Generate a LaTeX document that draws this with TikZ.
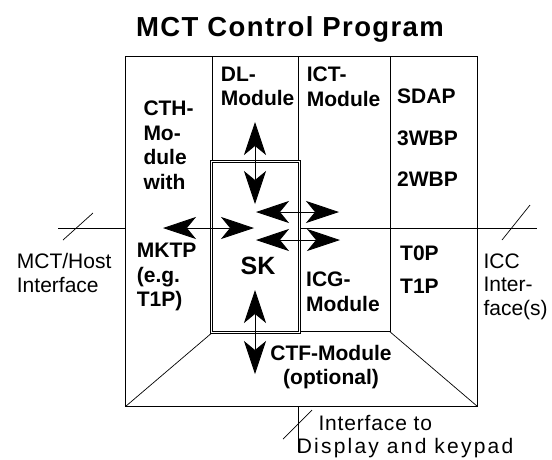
\documentclass[tikz,border=0pt]{standalone}
\usepackage{fontspec}
\setmainfont{Liberation Sans}
\usetikzlibrary{arrows.meta}
\tikzset{
	modtext/.style={font=\fontsize{21}{24.5}\selectfont\bfseries, inner sep=0pt, align=left},
	iftext/.style={font=\fontsize{21}{23.5}\selectfont, inner sep=0pt, align=left},
	bigarrow/.style={{Stealth[length=33pt,width=22pt,inset=9pt]}-{Stealth[length=33pt,width=22pt,inset=9pt]}, line width=0.8pt},
	thinline/.style={line width=0.7pt},
}

\begin{document}
\begin{tikzpicture}[x=1pt,y=-1pt]
			%%%%% START %%%%%
			\def\boxL{125.5}
			\def\boxR{477.5}
			\def\boxT{56.5}
			\def\boxB{406.5}
			\def\skL{211.8}
			\def\skR{299}
			\def\skT{161}
			\def\skB{332.8}
			\def\colx{390}
			\def\hy{228}
			\def\ax{255}

			\useasboundingbox (0,0) rectangle (552,459);

			\node[font=\fontsize{27.5}{30}\selectfont\bfseries\addfontfeature{LetterSpace=5}, anchor=base] (title) at (290,36.7) {MCT Control Program};

			\draw[line width=1.1pt] (\boxL,\boxT) rectangle (\boxR,\boxB);

			% column lines
			\draw[thinline] (\skL+1,\boxT) -- (\skL+1,\skT-1);
			\draw[thinline] (\skR-1,\boxT) -- (\skR-1,\skT-1);
			\draw[thinline] (\colx,\boxT) -- (\colx,\skB-1);
			\draw[thinline] (\skR+1,\skB-1) -- (\colx,\skB-1);
			\draw[thinline] (\colx,\skB-1) -- (\boxR,\boxB);
			\draw[thinline] (\skL-1,\skB+1) -- (\boxL,\boxB);

			% SK box, drawn twice
			\draw[thinline] (\skL-1,\skT-1) rectangle (\skR+1,\skB+1);
			\draw[thinline] (\skL+1,\skT+1) rectangle (\skR-1,\skB-1);

			% interfaces
			\draw[thinline] (58,\hy) -- (\boxL,\hy);
			\draw[thinline] (63,240) -- (93,213);
			\draw[thinline] (\skR+1,\hy) -- (537,\hy);
			\draw[thinline] (502,240) -- (530,205);
			\draw[thinline] (298,\boxB) -- (298,452);
			\draw[thinline] (283,439) -- (312,410);

			% arrows
			\coordinate (dlA) at (\ax,122);
			\coordinate (dlB) at (\ax,204);
			\coordinate (mkA) at (163,\hy);
			\coordinate (mkB) at (254,\hy);
			\coordinate (ictA) at (256,212);
			\coordinate (ictB) at (339,212);
			\coordinate (icgA) at (256,240);
			\coordinate (icgB) at (340,240);
			\coordinate (ctfA) at (\ax,290);
			\coordinate (ctfB) at (\ax,374);
			\draw[bigarrow] (dlA) -- (dlB);
			\draw[bigarrow] (mkA) -- (mkB);
			\draw[bigarrow] (ictA) -- (ictB);
			\draw[bigarrow] (icgA) -- (icgB);
			\draw[bigarrow] (ctfA) -- (ctfB);

			% module texts
			\node[modtext, anchor=north west] (cth) at (143.3,101) {CTH-\\Mo-\\dule\\with};
			\node[modtext, anchor=north west] (mktp) at (136.7,243) {MKTP\\(e.g.\\T1P)};
			\node[modtext, anchor=north west] (dl) at (220.7,66.7) {DL-\\Module};
			\node[modtext, anchor=north west] (ict) at (306.7,66.7) {ICT-\\Module};
			\node[modtext, anchor=base west] (sdap) at (397,103.3) {SDAP};
			\node[modtext, anchor=base west] (wbpa) at (397,145) {3WBP};
			\node[modtext, anchor=base west] (wbpb) at (397,186.7) {2WBP};
			\node[modtext, anchor=base west] (tzero) at (400,260) {T0P};
			\node[modtext, anchor=base west] (tone) at (400,293.3) {T1P};
			\node[font=\fontsize{25}{28}\selectfont\bfseries, inner sep=0pt, anchor=base] (sk) at (258,274) {SK};
			\node[modtext, anchor=north west] (icg) at (306,272) {ICG-\\Module};
			\node[modtext, align=center, anchor=north] (ctf) at (331,345) {CTF-Module\\(optional)};

			% interface texts
			\node[iftext, anchor=north west] (host) at (16.7,253.3) {MCT/Host\\Interface};
			\node[iftext, anchor=north west] (icc) at (483.3,253.3) {ICC\\Inter-\\face(s)};
			\node[iftext, anchor=north west] (disp) at (296.7,415) {\hspace{21.6pt}{\addfontfeature{LetterSpace=4}Interface to}\\{\addfontfeature{LetterSpace=10.5}Display and keypad}};
			%%%%% END %%%%%
\end{tikzpicture}
\end{document}
